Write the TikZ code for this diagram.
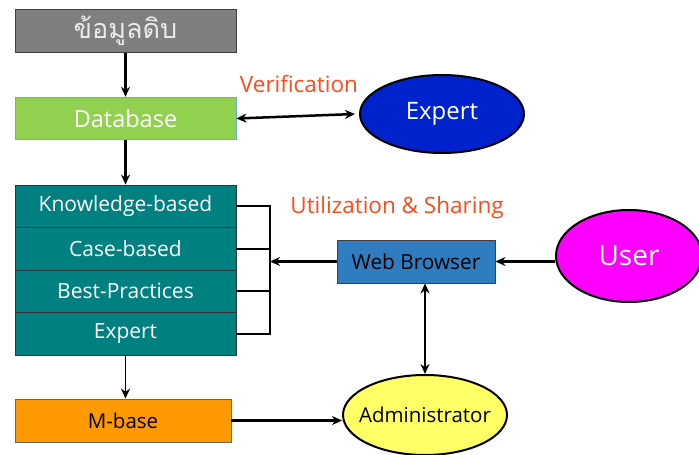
\documentclass[tikz,border=0pt]{standalone}
\usepackage{fontspec}
\setmainfont{Open Sans}
\newfontfamily\thaifont[Script=Thai]{Loma}
\usetikzlibrary{arrows.meta,shapes.geometric}
\definecolor{rawgray}{HTML}{7F7F7F}
\definecolor{dbgreen}{HTML}{92D050}
\definecolor{dbedge}{HTML}{6FA8DC}
\definecolor{kbteal}{HTML}{008080}
\definecolor{mborange}{HTML}{FF9900}
\definecolor{webblue}{HTML}{2F7DC0}
\definecolor{expblue}{HTML}{0022CC}
\definecolor{usermag}{HTML}{FF00FF}
\definecolor{admyel}{HTML}{FFFF66}
\definecolor{lblred}{HTML}{FF4A1A}
\tikzset{
  boxnode/.style={rectangle, minimum width=221pt, minimum height=42.5pt, inner sep=0pt, font=\fontsize{21}{24}\selectfont},
  rownode/.style={boxnode, fill=kbteal, draw=black!80, line width=0.9pt, text=white},
  ellnode/.style={ellipse, draw=black, line width=2pt, inner sep=0pt},
  conn/.style={line width=2.5pt, -{Stealth[length=10pt,width=9pt]}},
  biconn/.style={line width=2.5pt, {Stealth[length=10pt,width=9pt]}-{Stealth[length=10pt,width=9pt]}},
  plain/.style={line width=2.3pt},
  lbl/.style={text=lblred, font=\fontsize{22.5}{25}\selectfont}
}
\begin{document}
\begin{tikzpicture}[x=1pt,y=-1pt]
\clip (0,0) rectangle (699,455);
\fill[white] (0,0) rectangle (699,455);
% boxes
\node[boxnode, fill=rawgray, draw=black!75, line width=0.9pt, text=white!92!black, font=\fontsize{27}{30}\selectfont] (raw) at (125.5,31) {\thaifont ข้อมูลดิบ};
\node[boxnode, fill=dbgreen, draw=dbedge, line width=0.9pt, text=white, font=\fontsize{23.5}{26}\selectfont] (db) at (125.5,118.5) {Database};
\node[rownode] (kb) at (125.5,206.25) {Knowledge-based};
\node[rownode] (cb) at (125.5,248.75) {Case-based};
\node[rownode] (bp) at (125.5,291.25) {Best-Practices};
\node[rownode] (ex) at (125.5,333.75) {Expert};
\node[boxnode, minimum width=216pt, minimum height=43pt, fill=mborange, draw=black!60, line width=0.9pt, text=black, font=\fontsize{20.5}{23}\selectfont] (mb) at (123,420.5) {M-base};
\node[boxnode, minimum width=158pt, minimum height=43pt, fill=webblue, draw=black!75, line width=0.9pt, text=black, font=\fontsize{20.8}{23}\selectfont] (web) at (416,261.5) {Web Browser};
% ellipses (text as centred labels so the outline keeps its size)
\node[ellnode, fill=expblue, minimum width=164pt, minimum height=78pt,
  label={[text=white, font=\fontsize{24}{27}\selectfont]center:Expert}] (expert) at (442,114) {};
\node[ellnode, fill=usermag, minimum width=146pt, minimum height=92pt,
  label={[text=white, font=\fontsize{28}{31}\selectfont]center:User}] (user) at (629,256) {};
\node[ellnode, fill=admyel, minimum width=164pt, minimum height=80pt,
  label={[text=black, font=\fontsize{20.5}{23}\selectfont]center:Administrator}] (admin) at (425,415) {};
% labels
\node[lbl] (ver) at (299,84) {Verification};
\node[lbl] (util) at (397,208) {Utilization \& Sharing};
% connectors
\draw[conn] (raw.south) -- (db.north);
\draw[conn] (db.south) -- (kb.north);
\draw[conn, line width=1.7pt] (ex.south) -- (mb.north -| ex.south);
\draw[biconn] (db.east) -- ([xshift=-4pt]expert.west);
\coordinate (bt) at (270,206.25);
\coordinate (bb) at (270,333.75);
\coordinate (bm) at (270,261.5);
\draw[plain] (kb.east) -- (bt);
\draw[plain] (cb.east) -- (cb.east -| bt);
\draw[plain] (bp.east) -- (bp.east -| bt);
\draw[plain] (ex.east) -- (bb);
\draw[plain, line cap=rect] (bt) -- (bb);
\draw[conn] (web.west) -- (bm);
\draw[conn] (web.east -| user.west) -- (web.east);
\draw[biconn] (admin.north |- web.south) -- (admin.north);
\draw[conn] (mb.east) -- (mb.east -| admin.west);
\end{tikzpicture}
\end{document}
